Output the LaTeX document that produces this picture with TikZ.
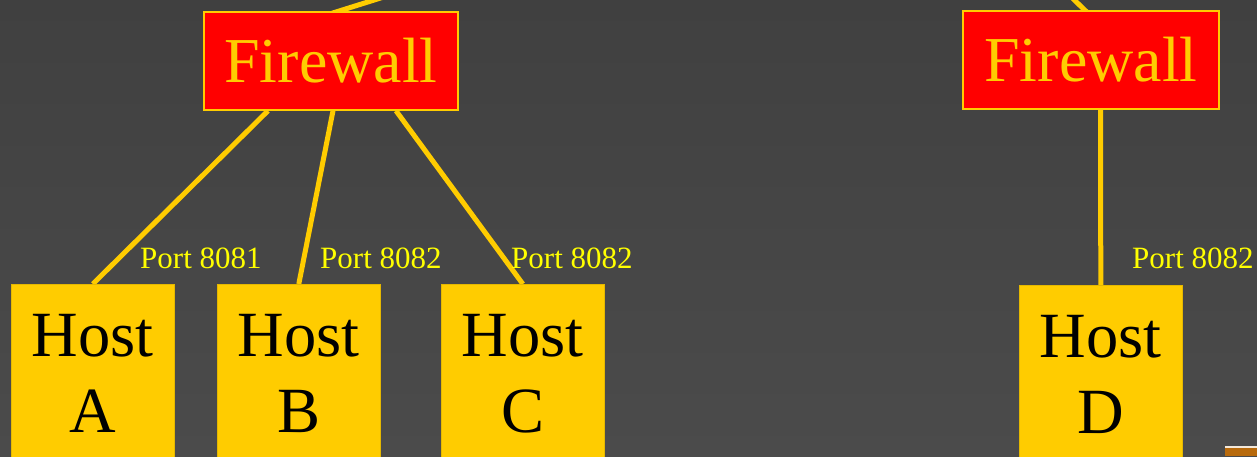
\documentclass[tikz,border=0pt]{standalone}
\usepackage{fontspec}
\usetikzlibrary{backgrounds}
\setmainfont{Liberation Serif}
\definecolor{gold}{HTML}{FFCC00}
\definecolor{portyellow}{HTML}{FFFF00}
\definecolor{fwred}{HTML}{FF0000}
\definecolor{bgtop}{HTML}{404040}
\definecolor{bgbot}{HTML}{4B4B4B}
\definecolor{rust}{HTML}{B86A0C}
\begin{document}
\begin{tikzpicture}[x=1pt,y=-1pt,
  firewallbox/.style={draw=gold,line width=1.5pt,fill=fwred,text=gold,
    inner sep=0pt,minimum height=98pt,font=\fontsize{64}{76}\selectfont},
  hostbox/.style={draw=gold!90!black,line width=0.6pt,fill=gold,inner sep=0pt,
    anchor=north west,minimum width=163pt,minimum height=190pt},
  hosttext/.style={align=center,anchor=north,inner sep=0pt,text=black,
    font=\fontsize{64.5}{76}\selectfont},
  portlabel/.style={anchor=base west,inner sep=0pt,text=portyellow,
    font=\fontsize{31}{36}\selectfont},
  link/.style={draw=gold,line width=5pt}]
\useasboundingbox (0,0) rectangle (1257,456);
\clip (0,0) rectangle (1257,456);

% firewalls
\node[firewallbox,minimum width=254pt] (fw1) at (331,61) {Firewall};
\node[firewallbox,minimum width=256pt] (fw2) at (1091,60) {Firewall};

% uplinks leaving the top of the view
\coordinate (up1) at (406,-10);
\coordinate (up2) at (1064,-10);

% host boxes
\node[hostbox] (hA) at (11,284) {};
\node[hostbox] (hB) at (217,284) {};
\node[hostbox] (hC) at (441,284) {};
\node[hostbox] (hD) at (1019,285) {};

% host names
\node[hosttext] (tA) at ([yshift=-30pt]hA.north) {Host\\A};
\node[hosttext] (tB) at ([yshift=-30pt]hB.north) {Host\\B};
\node[hosttext] (tC) at ([yshift=-30pt]hC.north) {Host\\C};
\node[hosttext] (tD) at ([yshift=-30pt]hD.north) {Host\\D};

% port labels
\node[portlabel] (pA) at (140,268) {Port 8081};
\node[portlabel] (pB) at (320,268) {Port 8082};
\node[portlabel] (pC) at (511,268) {Port 8082};
\node[portlabel] (pD) at (1132,268) {Port 8082};

% backdrop and connectors, kept behind the boxes
\begin{scope}[on background layer]
  \shade[top color=bgtop,bottom color=bgbot] (0,0) rectangle (1257,456);
  \draw[link] ([xshift=1pt,yshift=-2pt]fw1.north) -- (up1);
  \draw[link] ([xshift=-4pt,yshift=-2pt]fw2.north) -- (up2);
  \draw[link] ([xshift=-63pt]fw1.south) -- (hA.north);
  \draw[link] ([xshift=2pt]fw1.south) -- (hB.north);
  \draw[link] ([xshift=65pt]fw1.south) -- (hC.north);
  \draw[link] ([xshift=9.5pt]fw2.south) -- (hD.north);
\end{scope}

% corner of a neighbouring element
\fill[rust] (1225,446) rectangle (1257,456);
\fill[white!85!rust] (1225,446) rectangle (1257,448);
\end{tikzpicture}
\end{document}
